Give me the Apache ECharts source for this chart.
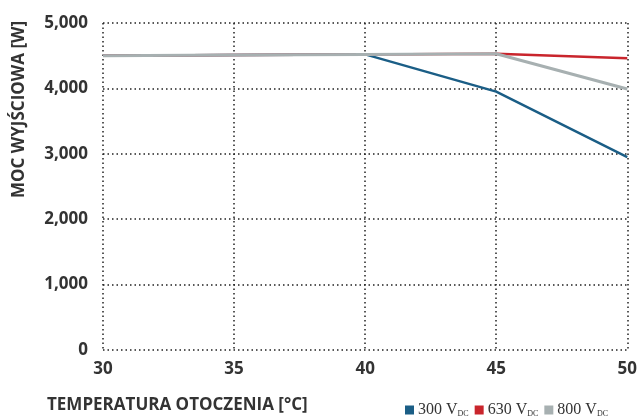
<!DOCTYPE html>
<html><head><meta charset="utf-8">
<script src="https://cdn.jsdelivr.net/npm/echarts@6/dist/echarts.min.js"></script>
<style>html,body{margin:0;padding:0;background:#fff}#c{width:640px;height:419px}</style>
</head><body><div id="c"></div>
<script>
const temps = [30, 35, 40, 45, 50];
const v300 = [4500, 4510, 4520, 3950, 2950];
const v630 = [4500, 4510, 4520, 4530, 4460];
const v800 = [4500, 4510, 4520, 4530, 3990];
const seriesNames = ['300', '630', '800'];

const pair = (xs, ys) => xs.map((x, i) => [x, ys[i]]);
const font = '"Open Sans", sans-serif';
const chart = echarts.init(document.getElementById('c'));
chart.setOption({
  animation: false,
  grid: {left: 103, right: 10, top: 23, bottom: 69},
  xAxis: {
    type: 'value', min: 30, max: 50, interval: 5,
    axisLine: {show: false}, axisTick: {show: false},
    splitLine: {show: true, lineStyle: {color: '#222', type: [1.5, 3], width: 1.5}},
    axisLabel: {color: '#333', fontFamily: font, fontWeight: 'bold', fontSize: 17, margin: 11}
  },
  yAxis: {
    type: 'value', min: 0, max: 5000, interval: 1000,
    axisLine: {show: false}, axisTick: {show: false},
    splitLine: {show: true, lineStyle: {color: '#222', type: [1.5, 3], width: 1.5}},
    axisLabel: {color: '#333', fontFamily: font, fontWeight: 'bold', fontSize: 17, margin: 15,
      formatter: v => v.toLocaleString('en-US')}
  },
  legend: {
    left: 400, top: 397, itemWidth: 9, itemHeight: 9, itemGap: 6, icon: 'rect',
    data: seriesNames,
    formatter: n => '{a|' + n + ' V}{b|DC}',
    textStyle: {padding: [0, 0, 0, -1], rich: {
      a: {fontFamily: '"Liberation Serif", serif', fontSize: 16, color: '#333'},
      b: {fontFamily: '"Liberation Serif", serif', fontSize: 8, color: '#333', verticalAlign: 'bottom', padding: [6, 0, 0, 0]}
    }}
  },
  graphic: [
    {type: 'text', left: 47, top: 397, style: {text: 'TEMPERATURA OTOCZENIA [°C]', font: 'bold 17px "Open Sans", sans-serif', fill: '#333'}},
    {type: 'text', x: 11, y: 198, rotation: Math.PI / 2, style: {text: 'MOC WYJŚCIOWA [W]', font: 'bold 17px "Open Sans", sans-serif', fill: '#333'}}
  ],
  series: [
    {name: '300', type: 'line', data: pair(temps, v300), showSymbol: false, lineStyle: {width: 2.5, color: '#1b5e86'}, itemStyle: {color: '#1b5e86'}, z: 2},
    {name: '630', type: 'line', data: pair(temps, v630), showSymbol: false, lineStyle: {width: 2.5, color: '#c9252c'}, itemStyle: {color: '#c9252c'}, z: 3},
    {name: '800', type: 'line', data: pair(temps, v800), showSymbol: false, lineStyle: {width: 3, color: '#a7b0b1'}, itemStyle: {color: '#a7b0b1'}, z: 4}
  ]
});
</script></body></html>
